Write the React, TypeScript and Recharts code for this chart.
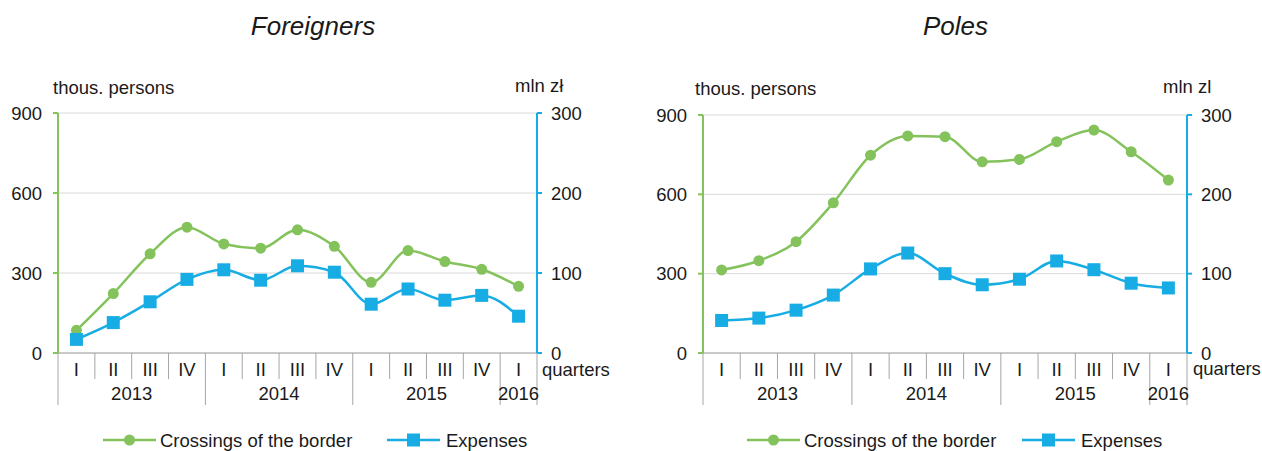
import React from 'react';
import { LineChart, Line, XAxis, YAxis, CartesianGrid } from 'recharts';

const quarters = ['I', 'II', 'III', 'IV', 'I', 'II', 'III', 'IV', 'I', 'II', 'III', 'IV', 'I'];
const years = ['2013', '2013', '2013', '2013', '2014', '2014', '2014', '2014', '2015', '2015', '2015', '2015', '2016'];

const foreignCrossings = [85, 223, 372, 472, 409, 393, 462, 400, 265, 384, 343, 314, 250];
const foreignExpenses = [17, 38, 64, 92, 104, 91, 109, 101, 61, 80, 66, 72, 46];
const polesCrossings = [314, 349, 421, 568, 748, 821, 818, 723, 732, 799, 843, 761, 654];
const polesExpenses = [41, 44, 54, 73, 106, 126, 100, 86, 93, 116, 105, 88, 82];

const leftTicks = [0, 300, 600, 900];
const rightTicks = [0, 100, 200, 300];

const green = '#84c25c';
const blue = '#17ade4';
const ink = '#1a1a1a';
const divider = '#a6a6a6';
const FONT = '"Liberation Sans", Arial, sans-serif';
const FS = 18.5;

const PANEL_W = 631;
const PANEL_H = 451;

type Layout = {
  left: number;
  plotLeft: number;
  plotRight: number;
  top: number;
  axisY: number;
  titleX: number;
  persX: number;
  persY: number;
  unitX: number;
  unitY: number;
  quartersX: number;
  quartersY: number;
  legend: [number, number];
};

function QuarterTick(props: any) {
  const { x, y, payload, bw } = props;
  const i = payload.index;
  const yearStart = i === 0 || years[i] !== years[i - 1];
  const isLast = i === quarters.length - 1;
  const lx = x - bw / 2;
  let yearLabel = null;
  if (yearStart) {
    let n = 0;
    while (i + n < years.length && years[i + n] === years[i]) n++;
    yearLabel = (
      <text x={lx + (n * bw) / 2} y={y + 40} textAnchor="middle" dominantBaseline="central" fill={ink} fontSize={FS}>
        {years[i]}
      </text>
    );
  }
  return (
    <g>
      <line x1={lx} x2={lx} y1={y} y2={y + (yearStart ? 52 : 26)} stroke={divider} />
      {isLast && <line x1={x + bw / 2} x2={x + bw / 2} y1={y} y2={y + 52} stroke={divider} />}
      <text x={x} y={y + 16} textAnchor="middle" dominantBaseline="central" fill={ink} fontSize={FS}>
        {quarters[i]}
      </text>
      {yearLabel}
    </g>
  );
}

function SquareDot(props: any) {
  const { cx, cy, index } = props;
  return <rect key={'sq' + index} x={cx - 6.5} y={cy - 6.5} width={13} height={13} fill={blue} />;
}

function Panel({ title, unit, crossings, expenses, lay }: { title: string; unit: string; crossings: number[]; expenses: number[]; lay: Layout }) {
  const data = quarters.map((q, i) => ({ q: i, quarter: q, cross: crossings[i], exp: expenses[i] }));
  const plotW = lay.plotRight - lay.plotLeft;
  const bw = plotW / quarters.length;
  const xAxisH = 60;
  const marginBottom = PANEL_H - lay.axisY - xAxisH;
  const [lg1, lg2] = lay.legend;
  return (
    <div style={{ position: 'absolute', left: lay.left, top: 0, width: PANEL_W, height: PANEL_H }}>
      <LineChart width={PANEL_W} height={PANEL_H} data={data} margin={{ top: lay.top, right: 0, bottom: marginBottom, left: 0 }}>
        <CartesianGrid yAxisId="l" vertical={false} stroke="#d9d9d9" />
        <XAxis
          dataKey="q"
          scale="band"
          height={xAxisH}
          axisLine={{ stroke: divider }}
          tickLine={false}
          tickSize={0}
          tickMargin={0}
          interval={0}
          tick={(p: any) => <QuarterTick {...p} bw={bw} />}
        />
        <YAxis
          yAxisId="l"
          width={lay.plotLeft}
          domain={[0, 900]}
          ticks={leftTicks}
          interval={0}
          axisLine={{ stroke: green, strokeWidth: 2 }}
          tickLine={{ stroke: green, strokeWidth: 2 }}
          tickSize={5}
          tickMargin={11}
          tick={{ fill: ink, fontSize: FS }}
        />
        <YAxis
          yAxisId="r"
          orientation="right"
          width={PANEL_W - lay.plotRight}
          domain={[0, 300]}
          ticks={rightTicks}
          interval={0}
          axisLine={{ stroke: blue, strokeWidth: 2 }}
          tickLine={{ stroke: blue, strokeWidth: 2 }}
          tickSize={5}
          tickMargin={9}
          tick={{ fill: ink, fontSize: FS, textAnchor: 'start' }}
        />
        <Line
          yAxisId="l"
          type="monotone"
          dataKey="cross"
          stroke={green}
          strokeWidth={2.5}
          dot={{ r: 5.5, fill: green, stroke: green, strokeWidth: 0 }}
          isAnimationActive={false}
        />
        <Line
          yAxisId="r"
          type="monotone"
          dataKey="exp"
          stroke={blue}
          strokeWidth={2.5}
          dot={SquareDot}
          isAnimationActive={false}
        />
      </LineChart>
      <svg width={PANEL_W} height={PANEL_H} style={{ position: 'absolute', left: 0, top: 0, pointerEvents: 'none', overflow: 'visible' }}>
        <text x={lay.titleX} y={35} textAnchor="middle" fontSize={26} fontStyle="italic" fill={ink}>
          {title}
        </text>
        <text x={lay.persX} y={lay.persY} fontSize={FS} fill={ink}>thous. persons</text>
        <text x={lay.unitX} y={lay.unitY} fontSize={FS} fill={ink}>{unit}</text>
        <text x={lay.quartersX} y={lay.quartersY} fontSize={FS} fill={ink}>quarters</text>
        {/* legend */}
        <line x1={lg1} x2={lg1 + 53} y1={440} y2={440} stroke={green} strokeWidth={2.5} />
        <circle cx={lg1 + 26.5} cy={440} r={5.5} fill={green} />
        <text x={lg1 + 57} y={440} dominantBaseline="central" fontSize={FS} fill={ink}>Crossings of the border</text>
        <line x1={lg2} x2={lg2 + 53} y1={440} y2={440} stroke={blue} strokeWidth={2.5} />
        <rect x={lg2 + 20} y={433.5} width={13} height={13} fill={blue} />
        <text x={lg2 + 59} y={440} dominantBaseline="central" fontSize={FS} fill={ink}>Expenses</text>
      </svg>
    </div>
  );
}

const leftLayout: Layout = {
  left: 0,
  plotLeft: 58,
  plotRight: 537,
  top: 113,
  axisY: 353,
  titleX: 313,
  persX: 53,
  persY: 94,
  unitX: 515,
  unitY: 92,
  quartersX: 542,
  quartersY: 376,
  legend: [103, 387],
};

const rightLayout: Layout = {
  left: 631,
  plotLeft: 72,
  plotRight: 556,
  top: 115,
  axisY: 353,
  titleX: 324.5,
  persX: 64,
  persY: 95,
  unitX: 532,
  unitY: 93,
  quartersX: 562,
  quartersY: 375,
  legend: [116, 391],
};

export default function App() {
  return (
    <div style={{ position: 'fixed', left: 0, top: 0, width: 1262, height: 451, background: '#fff', fontFamily: FONT, overflow: 'hidden' }}>
      <Panel title="Foreigners" unit="mln zł" crossings={foreignCrossings} expenses={foreignExpenses} lay={leftLayout} />
      <Panel title="Poles" unit="mln zl" crossings={polesCrossings} expenses={polesExpenses} lay={rightLayout} />
    </div>
  );
}
